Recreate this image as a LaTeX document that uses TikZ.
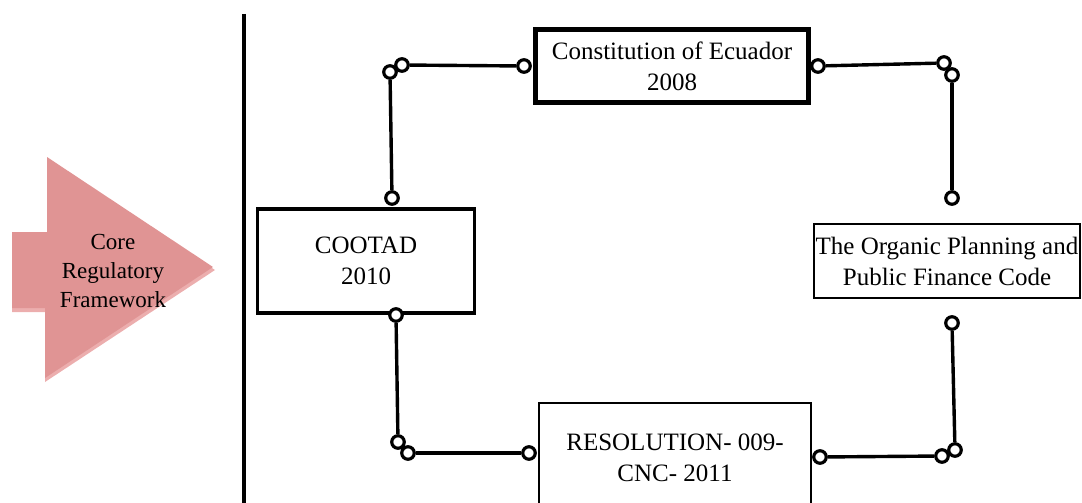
\documentclass[tikz,border=0pt]{standalone}
\usepackage{fontspec}
\setmainfont{Liberation Serif}
\usetikzlibrary{positioning,calc}
\definecolor{corepink}{HTML}{E09494}
\definecolor{corelight}{HTML}{ECAEAE}
\tikzstyle{lawbox} = [rectangle, draw=black, line width=2.8pt, fill=white, align=center,
    inner sep=0pt, font=\fontsize{25}{31}\selectfont]
\tikzstyle{joint} = [circle, draw=black, line width=3.2pt, fill=white, inner sep=0pt, minimum size=12.5pt]
\tikzstyle{link} = [line width=3.4pt, black]

\begin{document}
\begin{tikzpicture}[x=1pt, y=-1pt]
\useasboundingbox (0,0) rectangle (1082,503);
\clip (0,0) rectangle (1082,503);

% core arrow on the left
\fill[corelight] (12,236) -- (47,236) -- (47,161) -- (215,270) -- (45,382) -- (45,312) -- (12,312) -- cycle;
\fill[corepink] (12,232) -- (47,232) -- (47,157) -- (213,267) -- (45,378) -- (45,308) -- (12,308) -- cycle;
\node[align=center, font=\fontsize{23}{29}\selectfont] (core) at (113,271) {Core\\Regulatory\\Framework};

% divider
\draw[line width=3.5pt] (244,14) -- (244,503);

% the four laws
\node[lawbox, line width=4.2pt, minimum width=273pt, minimum height=73pt] (constitution) at (672,66) {Constitution of Ecuador\\2008};
\node[lawbox, line width=3.8pt, minimum width=217pt, minimum height=104pt] (cootad) at (366,261) {COOTAD\\2010};
\node[lawbox, minimum width=266pt, minimum height=74pt] (organic) at (947,261) {The Organic Planning and\\Public Finance Code};
\node[lawbox, minimum width=272pt, minimum height=110pt] (resolution) at (675,458) {RESOLUTION- 009-\\CNC- 2011};

% joints
\node[joint] (tl1) at (392,198) {};
\node[joint] (tl2) at (390,72) {};
\node[joint] (tl3) at (402,65) {};
\node[joint] (tl4) at (524,66) {};
\node[joint] (tr1) at (818,66) {};
\node[joint] (tr2) at (944,63) {};
\node[joint] (tr3) at (952,75) {};
\node[joint] (tr4) at (952,198) {};
\node[joint] (br1) at (952,323) {};
\node[joint] (br2) at (955,450) {};
\node[joint] (br3) at (942,456) {};
\node[joint] (br4) at (820,457) {};
\node[joint] (bl1) at (396,315) {};
\node[joint] (bl2) at (398,442) {};
\node[joint] (bl3) at (408,453) {};
\node[joint] (bl4) at (529,453) {};

\draw[link] (tl1) -- (tl2);
\draw[link] (tl3) -- (tl4);
\draw[link] (tr1) -- (tr2);
\draw[link] (tr3) -- (tr4);
\draw[link] (br1) -- (br2);
\draw[link] (br3) -- (br4);
\draw[link] (bl1) -- (bl2);
\draw[link] (bl3) -- (bl4);
\end{tikzpicture}
\end{document}
